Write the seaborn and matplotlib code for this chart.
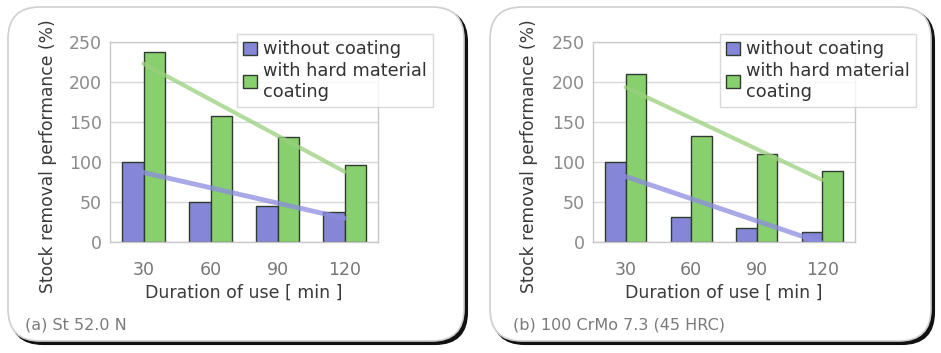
import numpy as np
import pandas as pd
import matplotlib
matplotlib.use("Agg")
import matplotlib.pyplot as plt
from matplotlib.patches import FancyBboxPatch
import seaborn as sns

# Data
durations = [30, 60, 90, 120]
series_names = ["without coating", "with hard material\ncoating"]
st52_without = [100, 50, 45, 38]
st52_with = [237, 158, 131, 96]
crmo_without = [100, 31, 18, 12]
crmo_with = [210, 133, 110, 89]
captions = ["(a) St 52.0 N", "(b) 100 CrMo 7.3 (45 HRC)"]
y_ticks = [0, 50, 100, 150, 200, 250]

bar_colors = ["#8686d8", "#88cf6e"]
line_colors = ["#8c8ce0", "#9ad07e"]


def make_frame(df, without, with_, ax):
    sns.barplot(data=df, x="duration", y="value", hue="series",
                palette=bar_colors, width=0.63, edgecolor="#2f3b2f",
                linewidth=1.0, saturation=1, ax=ax, legend=False)
    pos = np.arange(len(durations))
    sns.regplot(x=pos, y=np.array(without), scatter=False, ci=None, ax=ax,
                line_kws=dict(color=line_colors[0], lw=3.5, alpha=0.75, zorder=3))
    sns.regplot(x=pos, y=np.array(with_), scatter=False, ci=None, ax=ax,
                line_kws=dict(color=line_colors[1], lw=3.0, alpha=0.75, zorder=3))
    ax.set_xlim(-0.5, 3.5)
    ax.set_ylim(0, 250)
    ax.set_yticks(y_ticks)
    ax.set_xticks(pos)
    ax.set_xticklabels([str(d) for d in durations])
    ax.grid(axis="y", color="#d8d8d8", lw=1.0)
    ax.grid(axis="x", visible=False)
    ax.set_axisbelow(True)
    for s in ax.spines.values():
        s.set_color("#c8c8c8")
        s.set_linewidth(1.0)
    ax.tick_params(axis="y", length=0, pad=6, labelsize=12.5, labelcolor="#8a8a8a")
    ax.tick_params(axis="x", length=0, pad=14, labelsize=12.5, labelcolor="#777777")
    ax.set_xlabel("Duration of use [ min ]", fontsize=12.5, color="#3a3a3a", labelpad=3)
    ax.set_ylabel("Stock removal performance (%)", fontsize=12.3, color="#3a3a3a")


def long_table(without, with_):
    return pd.DataFrame({
        "duration": durations * 2,
        "value": without + with_,
        "series": [series_names[0]] * 4 + [series_names[1]] * 4,
    })


sns.set_style("white")
plt.rcParams["font.family"] = ["DejaVu Sans"]

fig = plt.figure(figsize=(9.41, 3.53), dpi=100)

# rounded panel frames (in inches)
for x0, x1 in [(0.08, 4.64), (4.90, 9.31)]:
    shadow = FancyBboxPatch((x0 + 0.03, 0.09), x1 - x0, 3.34,
                            boxstyle="round,pad=0,rounding_size=0.32",
                            transform=fig.dpi_scale_trans, facecolor="#111111",
                            edgecolor="#111111", lw=1.5, zorder=-20)
    panel = FancyBboxPatch((x0, 0.12), x1 - x0, 3.34,
                           boxstyle="round,pad=0,rounding_size=0.32",
                           transform=fig.dpi_scale_trans, facecolor="white",
                           edgecolor="#cfcfcf", lw=1.2, zorder=-10)
    fig.patches.extend([shadow, panel])

axL = fig.add_axes([110 / 941, 1 - 242 / 353, 268 / 941, 200 / 353])
axR = fig.add_axes([593 / 941, 1 - 242 / 353, 262 / 941, 200 / 353])

make_frame(long_table(st52_without, st52_with), st52_without, st52_with, axL)
make_frame(long_table(crmo_without, crmo_with), crmo_without, crmo_with, axR)

# y label sits a little lower than the axes centre in the reference
axL.yaxis.set_label_coords(-0.198, 0.43)
axR.yaxis.set_label_coords(-0.21, 0.43)

for ax, lx, cap, cx in [(axL, 237, captions[0], 25), (axR, 720, captions[1], 513)]:
    bars = [c for c in ax.containers]
    handles = [bars[0].patches[0], bars[1].patches[0]]
    leg = fig.legend(handles, series_names, loc="upper left",
                     bbox_to_anchor=(lx / 941, 1 - 34 / 353), fontsize=12.8,
                     frameon=True, fancybox=False, edgecolor="#d0d0d0",
                     handlelength=0.75, handleheight=0.75, handletextpad=0.35,
                     borderpad=0.35, labelspacing=0.2, borderaxespad=0)
    leg.get_frame().set_linewidth(1.0)
    for t in leg.get_texts():
        t.set_color("#333333")
    fig.text(cx / 941, 1 - 325 / 353, cap, fontsize=11.5, color="#7a7a7a", va="center")

fig.savefig("out.png", dpi=100)
